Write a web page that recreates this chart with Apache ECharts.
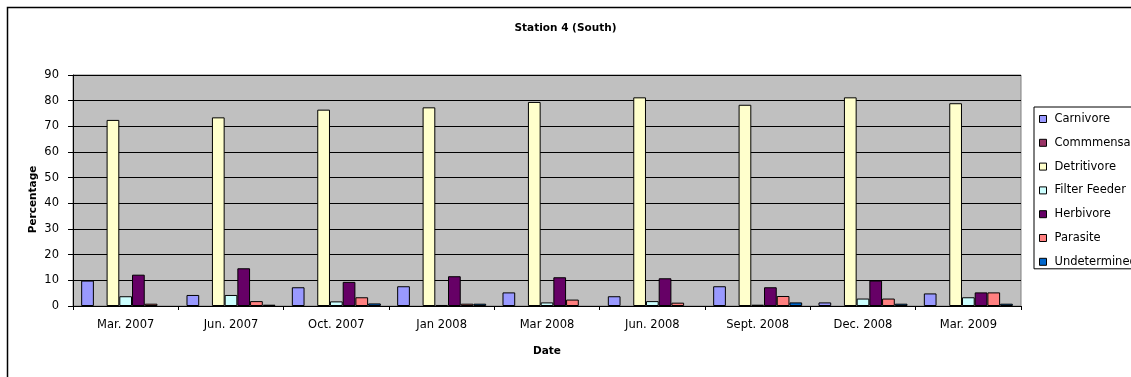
<!DOCTYPE html>
<html>
<head>
<meta charset="utf-8">
<script src="https://cdn.jsdelivr.net/npm/echarts@6/dist/echarts.min.js"></script>
<style>
  html, body { margin: 0; padding: 0; background: #fff; }
  #chart { width: 1131px; height: 377px; }
</style>
</head>
<body>
<div id="chart"></div>
<script>
var dates = ['Mar. 2007', 'Jun. 2007', 'Oct. 2007', 'Jan 2008', 'Mar 2008', 'Jun. 2008', 'Sept. 2008', 'Dec. 2008', 'Mar. 2009'];
var groups = ['Carnivore', 'Commmensal', 'Detritivore', 'Filter Feeder', 'Herbivore', 'Parasite', 'Undetermined'];
var colors = ['#9999FF', '#993366', '#FFFFCC', '#CCFFFF', '#660066', '#FF8080', '#0066CC'];

var carnivore    = [9.9, 4.3, 7.3, 7.7, 5.3, 3.8, 7.7, 1.4, 4.9];
var commensal    = [0, 0, 0, 0, 0, 0, 0, 0, 0];
var detritivore  = [72.5, 73.5, 76.5, 77.4, 79.5, 81.3, 78.4, 81.3, 79];
var filterFeeder = [3.8, 4.3, 1.8, 0.4, 1.4, 1.9, 0.5, 2.9, 3.4];
var herbivore    = [12.2, 14.7, 9.4, 11.6, 11.2, 10.8, 7.3, 9.9, 5.3];
var parasite     = [0.9, 1.9, 3.4, 0.9, 2.5, 1.3, 3.9, 2.9, 5.3];
var undetermined = [0, 0.5, 1.0, 0.9, 0, 0, 1.4, 0.9, 0.9];

var yTicks = { min: 0, max: 90, interval: 10 };

var values = [carnivore, commensal, detritivore, filterFeeder, herbivore, parasite, undetermined];

var font = 'DejaVu Sans, Arial, sans-serif';
var myChart = echarts.init(document.getElementById('chart'));

// zero values draw nothing in the original
var series = groups.map(function (name, i) {
  return {
    name: name,
    type: 'bar',
    barGap: 0,
    barCategoryGap: '15.5%',
    data: values[i].map(function (v) { return v === 0 ? '-' : v; }),
    itemStyle: { color: colors[i], borderColor: '#000', borderWidth: 1 }
  };
});

var option = {
  animation: false,
  textStyle: { fontFamily: font },
  graphic: [{
    type: 'rect',
    shape: { x: 7.5, y: 7.5, width: 1140, height: 400 },
    style: { fill: null, stroke: '#000', lineWidth: 1.5 },
    silent: true
  }],
  title: {
    text: 'Station 4 (South)',
    left: 'center',
    top: 18,
    textStyle: { fontSize: 10.5, fontWeight: 'bold', color: '#000', fontFamily: font }
  },
  legend: {
    orient: 'vertical',
    left: 1034,
    top: 107,
    padding: [6, 40, 1, 5],
    itemGap: 11.8,
    itemWidth: 7,
    itemHeight: 7,
    icon: 'rect',
    borderColor: '#000',
    borderWidth: 1,
    textStyle: { fontSize: 11.5, color: '#000', fontFamily: font, padding: [0, 0, 0, 3] },
    itemStyle: { borderColor: '#000', borderWidth: 1 },
    data: groups
  },
  grid: {
    left: 73,
    top: 75,
    right: 110,
    bottom: 71,
    show: true,
    backgroundColor: '#C0C0C0',
    borderColor: '#808080',
    borderWidth: 1
  },
  xAxis: {
    type: 'category',
    data: dates,
    name: 'Date',
    nameLocation: 'middle',
    nameGap: 40,
    nameTextStyle: { fontSize: 10.5, fontWeight: 'bold', color: '#000', fontFamily: font },
    axisLine: { lineStyle: { color: '#000' } },
    axisTick: { show: true, length: 4, lineStyle: { color: '#000' } },
    axisLabel: { fontSize: 11.5, color: '#000', margin: 13, fontFamily: font }
  },
  yAxis: {
    type: 'value',
    min: yTicks.min,
    max: yTicks.max,
    interval: yTicks.interval,
    name: 'Percentage',
    nameLocation: 'middle',
    nameMoveOverlap: false,
    nameGap: 34,
    nameTextStyle: { fontSize: 10.5, fontWeight: 'bold', color: '#000', fontFamily: font, padding: [0, 18, 0, 0] },
    axisLine: { show: true, lineStyle: { color: '#000' } },
    axisTick: { show: true, length: 5, lineStyle: { color: '#000' } },
    axisLabel: { fontSize: 11.5, color: '#000', margin: 14, fontFamily: font },
    splitLine: { lineStyle: { color: '#000', width: 1 } }
  },
  series: series
};

myChart.setOption(option);
</script>
</body>
</html>
